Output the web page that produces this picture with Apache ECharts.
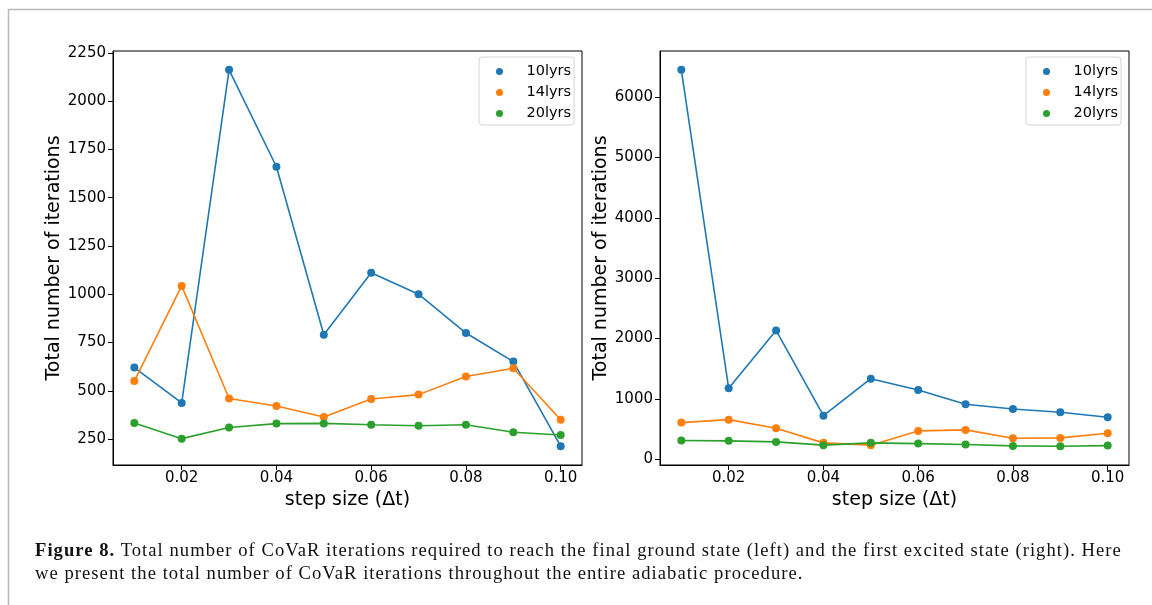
<!DOCTYPE html>
<html>
<head>
<meta charset="utf-8">
<script src="https://cdn.jsdelivr.net/npm/echarts@6/dist/echarts.min.js"></script>
<style>
html,body{margin:0;padding:0;background:#fff;}
#wrap{position:relative;width:1152px;height:605px;overflow:hidden;}
#chart{position:absolute;left:0;top:0;width:1152px;height:605px;}
.cap{position:absolute;left:35px;font-family:"Liberation Serif",serif;font-size:18.6px;color:#111;white-space:nowrap;letter-spacing:1.04px;line-height:23px;}
.cap b{font-weight:bold;}
</style>
</head>
<body>
<div id="wrap">
<div id="chart"></div>
<div class="cap" id="cap1" style="top:538px;"></div>
<div class="cap" id="cap2" style="top:561px;"></div>
</div>
<script>
// ---- data ----
var stepSizes = [0.01, 0.02, 0.03, 0.04, 0.05, 0.06, 0.07, 0.08, 0.09, 0.10];
var seriesNames = ['10lyrs', '14lyrs', '20lyrs'];
var ground10 = [620, 437, 2162, 1660, 790, 1111, 1000, 799, 651, 213];
var ground14 = [550, 1043, 460, 421, 364, 457, 480, 574, 617, 350];
var ground20 = [333, 252, 310, 330, 331, 324, 319, 324, 285, 271];
var excited10 = [6453, 1175, 2134, 721, 1334, 1147, 910, 832, 777, 695];
var excited14 = [606, 655, 513, 270, 232, 468, 485, 347, 352, 430];
var excited20 = [308, 303, 286, 232, 270, 258, 242, 220, 215, 225];
var xTicks = [0.02, 0.04, 0.06, 0.08, 0.10];
var leftYTicks = [250, 500, 750, 1000, 1250, 1500, 1750, 2000, 2250];
var rightYTicks = [0, 1000, 2000, 3000, 4000, 5000, 6000];
var xLabel = 'step size (\u0394t)';
var yLabel = 'Total number of iterations';
var captionBold = 'Figure 8.';
var captionLine1 = ' Total number of CoVaR iterations required to reach the final ground state (left) and the first excited state (right). Here';
var captionLine2 = 'we present the total number of CoVaR iterations throughout the entire adiabatic procedure.';
var colors = ['#1f77b4', '#ff7f0e', '#2ca02c'];

document.getElementById('cap1').innerHTML = '<b>' + captionBold + '</b>' + captionLine1;
document.getElementById('cap2').textContent = captionLine2;

// ---- helpers ----
function pad(arrs) {
  var all = [].concat.apply([], arrs);
  var mn = Math.min.apply(null, all), mx = Math.max.apply(null, all);
  var r = mx - mn;
  return [mn - 0.05 * r, mx + 0.05 * r];
}
function pairs(ys) { return stepSizes.map(function (x, i) { return [x, ys[i]]; }); }

var xr = pad([stepSizes]);
var lr = pad([ground10, ground14, ground20]);
var rr = pad([excited10, excited14, excited20]);

var FONT = 'DejaVu Sans';
var tickFont = {color: '#000', fontFamily: FONT, fontSize: 15};

function xAxis(gi) {
  return {
    type: 'value', gridIndex: gi, min: xr[0], max: xr[1],
    name: xLabel, nameLocation: 'middle', nameGap: 20,
    nameTextStyle: {color: '#000', fontFamily: FONT, fontSize: 19},
    axisLine: {show: true, onZero: false, lineStyle: {color: '#000', width: 1}},
    axisTick: {show: true, length: 5, lineStyle: {color: '#000', width: 1}, customValues: xTicks},
    axisLabel: Object.assign({margin: 6, customValues: xTicks, formatter: function (v) { return v.toFixed(2); }}, tickFont),
    splitLine: {show: false}
  };
}
function yAxis(gi, range, ticks) {
  return {
    type: 'value', gridIndex: gi, min: range[0], max: range[1],
    name: yLabel, nameLocation: 'middle', nameGap: 46, nameRotate: 90,
    nameTextStyle: {color: '#000', fontFamily: FONT, fontSize: 19},
    axisLine: {show: true, onZero: false, lineStyle: {color: '#000', width: 1}},
    axisTick: {show: true, length: 5, lineStyle: {color: '#000', width: 1}, customValues: ticks},
    axisLabel: Object.assign({margin: 7, customValues: ticks, formatter: function (v) { return String(Math.round(v)); }}, tickFont),
    splitLine: {show: false}
  };
}
function ser(name, gi, ys, ci) {
  return {
    type: 'line', name: name, xAxisIndex: gi, yAxisIndex: gi,
    data: pairs(ys), symbol: 'circle', symbolSize: 8, showSymbol: true,
    itemStyle: {color: colors[ci]},
    lineStyle: {color: colors[ci], width: 1.6},
    emphasis: {disabled: true}
  };
}
function legend(left) {
  return {
    data: seriesNames, orient: 'vertical', left: left, top: 57,
    icon: 'circle', itemWidth: 40, itemHeight: 7, itemGap: 6,
    padding: [7, 3, 4, 17],
    backgroundColor: '#fff', borderColor: '#d4d4d4', borderWidth: 1, borderRadius: 3,
    formatter: function (n) { return '{t|' + n + '}'; },
    textStyle: {color: '#000', fontFamily: FONT, fontSize: 14.5, lineHeight: 14,
      rich: {t: {padding: [0, 0, 0, 2], color: '#000', fontFamily: FONT, fontSize: 14.5, lineHeight: 14}}},
    selectedMode: false
  };
}

var chart = echarts.init(document.getElementById('chart'), null, {renderer: 'canvas'});
chart.setOption({
  animation: false,
  backgroundColor: '#fff',
  grid: [
    {left: 113, right: 570, top: 51, bottom: 140, show: true, borderColor: '#000', borderWidth: 1, backgroundColor: 'transparent'},
    {left: 660, right: 23, top: 51, bottom: 140, show: true, borderColor: '#000', borderWidth: 1, backgroundColor: 'transparent'}
  ],
  xAxis: [xAxis(0), xAxis(1)],
  yAxis: [yAxis(0, lr, leftYTicks), yAxis(1, rr, rightYTicks)],
  legend: [legend(479), legend(1026)],
  series: [
    ser(seriesNames[0], 0, ground10, 0),
    ser(seriesNames[1], 0, ground14, 1),
    ser(seriesNames[2], 0, ground20, 2),
    ser(seriesNames[0], 1, excited10, 0),
    ser(seriesNames[1], 1, excited14, 1),
    ser(seriesNames[2], 1, excited20, 2)
  ],
  graphic: [
    {type: 'line', shape: {x1: 8, y1: 9.5, x2: 1152, y2: 9.5}, style: {stroke: '#b8b8b8', lineWidth: 1.5}, silent: true},
    {type: 'line', shape: {x1: 8.5, y1: 9, x2: 8.5, y2: 605}, style: {stroke: '#b8b8b8', lineWidth: 1.5}, silent: true}
  ]
});
</script>
</body>
</html>
